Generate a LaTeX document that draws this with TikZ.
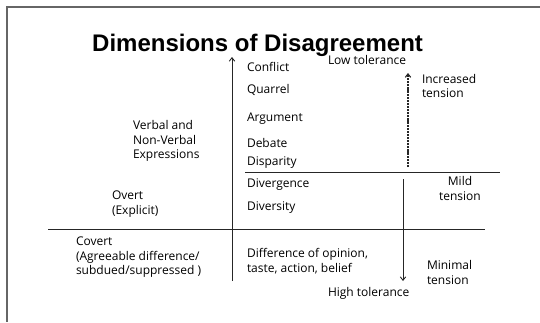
\documentclass[tikz,border=0pt]{standalone}
\usepackage{fontspec}
\setmainfont{Open Sans}
\newfontfamily\titlefont{Liberation Sans}
\usetikzlibrary{arrows.meta}
\tikzset{%
  >={Straight Barb[length=3.5pt,width=5.5pt]}, % open arrow heads
  axis line/.style={draw=black!85, line width=0.9pt},%
  level/.style={inner sep=0pt, outer sep=0pt, anchor=west, align=left,
  font=\fontsize{12}{14.5}\selectfont},%
  frame line/.style={draw=black!60, line width=2pt}%
}

\begin{document}
\begin{tikzpicture}[x=1pt,y=-1pt] % "Dimensions of Disagreement"

    \useasboundingbox (0,0) rectangle (540,322);
    \draw[frame line] (540,7) -- (7,7) -- (7,322); % slide border

    \node[anchor=base west, inner sep=0pt,
          font=\titlefont\bfseries\fontsize{24}{28}\selectfont]
          (title) at (92,51) {Dimensions of Disagreement};

    \coordinate (AxisBot) at (232,281);
    \coordinate (AxisTop) at (232,57);
    \coordinate (CovertL) at (48,229);
    \coordinate (CovertR) at (485,229);
    \coordinate (OvertL) at (245,172);
    \coordinate (OvertR) at (500,172);
    \coordinate (UpStart) at (408,167);
    \coordinate (UpEnd) at (408,73);
    \coordinate (DownStart) at (403,179);
    \coordinate (DownEnd) at (403,281);

    \draw[axis line,->] (AxisBot) -- (AxisTop); % expression axis
    \draw[axis line] (CovertL) -- (CovertR); % covert / overt
    \draw[axis line] (OvertL) -- (OvertR); % mild / increased
    \draw[axis line,->,line width=1.1pt,dash pattern=on 2.2pt off 0.9pt] (UpStart) -- (UpEnd);
    \draw[axis line,->] (DownStart) -- (DownEnd);

    \foreach \name/\y/\txt in {conflict/67/Conflict, quarrel/90/Quarrel,
        argument/119/Argument, debate/143/Debate, disparity/163/Disparity,
        divergence/185/Divergence, diversity/208/Diversity}
      \node[level] (\name) at (247,\y) {\txt};
    \node[level] (difference) at (247,261) {Difference of opinion,\\taste, action, belief};

    \node[level] (lowtol) at (328,60) {Low tolerance};
    \node[level] (hightol) at (328,293) {High tolerance};
    \node[level] (increased) at (422,86) {Increased\\tension};
    \node[level, anchor=center, align=center] (mild) at (460,188.5) {Mild\\tension};
    \node[level] (minimal) at (427,272.5) {Minimal\\tension};

    \node[level] (verbal) at (133,141) {Verbal and\\Non-Verbal\\Expressions};
    \node[level] (overt) at (112,204) {Overt\\(Explicit)};
    \node[level] (covert) at (76,257.5) {Covert\\(Agreeable difference/\\subdued/suppressed )};

\end{tikzpicture}
\end{document}
